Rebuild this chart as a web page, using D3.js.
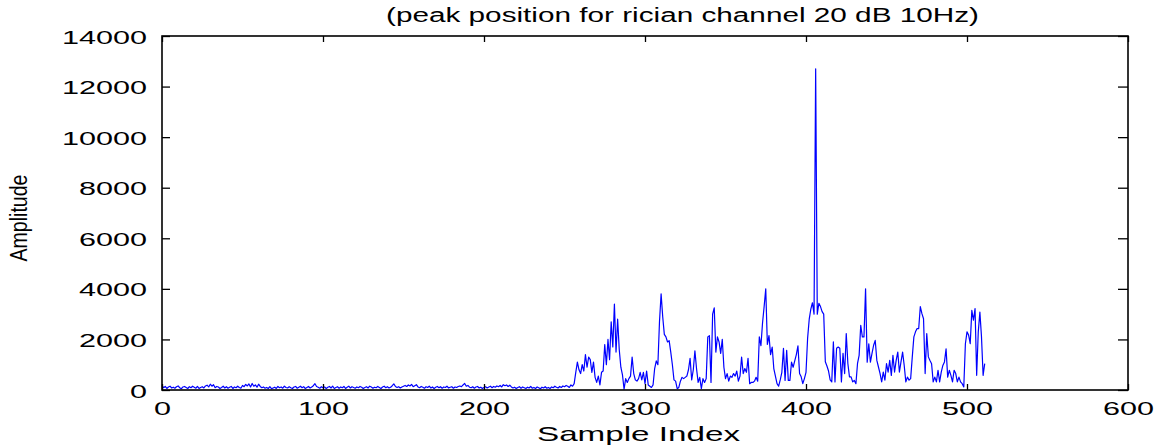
<!DOCTYPE html>
<html>
<head>
<meta charset="utf-8">
<script src="https://cdn.jsdelivr.net/npm/d3@7"></script>
<style>
  html, body { margin: 0; padding: 0; background: #fff; }
  svg { display: block; }
  text { font-family: 'Liberation Sans', Arial, sans-serif; fill: #000; }
</style>
</head>
<body>
<div id="chart"></div>
<script>
// samples 0..251 : quiet part before the burst
const quietPart = [
  180, 90, 140, 60, 120, 150, 80, 110, 70, 130, 160, 90, 50, 120, 140, 100, 60, 130, 90, 150,
  110, 70, 140, 60, 100, 130, 80, 160, 190, 120, 230, 150, 210, 90, 140, 120, 60, 100, 150, 80,
  130, 70, 110, 140, 60, 120, 90, 150, 100, 70, 180, 130, 220, 160, 240, 120, 260, 150, 200, 110,
  230, 140, 90, 120, 70, 100, 60, 130, 50, 80, 110, 60, 140, 90, 120, 70, 150, 100, 80, 130,
  90, 60, 120, 140, 70, 110, 150, 90, 130, 60, 100, 140, 80, 120, 170, 250, 140, 110, 70, 130,
  90, 120, 60, 110, 140, 80, 150, 60, 100, 130, 70, 120, 90, 140, 60, 110, 150, 80, 130, 100,
  70, 120, 90, 140, 110, 60, 100, 130, 80, 150, 120, 70, 110, 90, 140, 100, 60, 120, 150, 90,
  130, 80, 110, 170, 240, 140, 100, 130, 80, 120, 150, 180, 140, 200, 160, 220, 130, 170, 210, 120,
  90, 140, 110, 70, 130, 100, 150, 80, 120, 60, 110, 140, 90, 130, 70, 120, 100, 150, 80, 110,
  130, 70, 120, 100, 140, 160, 130, 200, 260, 150, 180, 110, 90, 130, 70, 120, 140, 80, 110, 60,
  100, 130, 80, 120, 150, 90, 140, 110, 160, 130, 180, 120, 210, 170, 200, 140, 190, 120, 80, 110,
  60, 100, 130, 70, 120, 90, 60, 110, 80, 140, 70, 100, 60, 120, 90, 50, 110, 80, 130, 70,
  100, 60, 120, 90, 150, 110, 80, 140, 100, 160, 130, 180
];

// samples 252..511 : the received burst
const burstPart = [
  150, 100, 200, 150, 250, 700, 1100, 800, 650, 1000,          // 252
  750, 1400, 900, 1300, 1200, 700, 1100, 500, 300, 550,        // 262
  200, 700, 750, 1800, 1000, 2000, 1200, 2700, 1700, 3400,     // 272
  1500, 2800, 1600, 900, 600, 30, 450, 300, 450, 550,          // 282
  1300, 650, 400, 350, 450, 700, 400, 700, 250, 750,           // 292
  200, 150, 100, 200, 850, 1150, 1000, 2700, 3800, 2900,       // 302
  2200, 2100, 1900, 1950, 1500, 1000, 400, 350, 50, 100,       // 312
  350, 500, 450, 500, 550, 800, 1250, 400, 800, 1550,          // 322
  850, 300, 500, 50, 450, 300, 450, 2100, 2150, 300,           // 332
  3000, 3250, 1500, 2100, 1900, 1450, 2000, 900, 450, 650,     // 342
  350, 550, 500, 650, 550, 750, 350, 550, 1300, 650,           // 352
  850, 700, 1250, 250, 300, 300, 350, 500, 350, 2100,          // 362
  1750, 2650, 3300, 4000, 1800, 2150, 1400, 1700, 850, 550,    // 372
  250, 150, 400, 700, 1650, 380, 1570, 380, 380, 1100,         // 382
  900, 1150, 1400, 1750, 650, 520, 250, 450, 700, 2050,        // 392
  2800, 3200, 3450, 3000, 12700, 3000, 3430, 3300, 3100, 3000, // 402
  1120, 950, 750, 400, 320, 1900, 320, 1650, 1700, 1650,       // 412
  320, 1450, 650, 2230, 1050, 520, 520, 320, 380, 250,         // 422
  1050, 1370, 2560, 2100, 2100, 4000, 1100, 1830, 1100, 1450,  // 432
  1770, 1960, 1170, 910, 650, 320, 710, 390, 1040, 710,        // 442
  1170, 580, 1370, 710, 1170, 1500, 710, 1110, 1500, 970,      // 452
  320, 510, 390, 450, 1300, 2100, 2300, 2430, 2430, 3300,      // 462
  3020, 2820, 650, 2230, 1310, 1170, 1040, 320, 510, 320,      // 472
  780, 320, 710, 970, 1110, 1630, 510, 780, 580, 320,          // 482
  780, 650, 320, 510, 320, 250, 120, 1830, 2300, 2170,         // 492
  1830, 3150, 2760, 3220, 580, 2300, 3080, 2100, 580, 1040     // 502
];

const xTicks = [0, 100, 200, 300, 400, 500, 600];
const yTicks = [0, 2000, 4000, 6000, 8000, 10000, 12000, 14000];

const titleText = '(peak position for rician channel 20 dB 10Hz)';
const xLabelText = 'Sample Index';
const yLabelText = 'Amplitude';

const amplitude = quietPart.concat(burstPart);
const series = amplitude.map((v, i) => ({i: i, v: v}));

const W = 1157, H = 448;
const margin = {top: 36, right: 29, bottom: 58, left: 162};

const svg = d3.select('#chart').append('svg')
  .attr('width', W)
  .attr('height', H);

const x = d3.scaleLinear().domain([0, 600]).range([margin.left, W - margin.right]);
const y = d3.scaleLinear().domain([0, 14000]).range([H - margin.bottom, margin.top]);

// data line
svg.append('path')
  .datum(series)
  .attr('fill', 'none')
  .attr('stroke', '#0000ff')
  .attr('stroke-width', 1.2)
  .attr('stroke-linejoin', 'round')
  .attr('d', d3.line().x(d => x(d.i)).y(d => y(d.v)));

// ticks point inward, matlab style
const styleAxis = g => {
  g.select('.domain').remove();
  g.selectAll('.tick line').attr('stroke', '#000').attr('stroke-width', 1.3);
};

svg.append('g')
  .attr('transform', `translate(0,${y(0)})`)
  .call(d3.axisBottom(x).tickValues(xTicks).tickSize(-6).tickFormat(d3.format('d')))
  .call(styleAxis)
  .call(g => g.selectAll('.tick text')
    .attr('y', 25)
    .attr('dy', 0)
    .attr('font-size', 19)
    .attr('font-family', 'Liberation Sans, Arial, sans-serif')
    .attr('textLength', d => String(d).length * 17)
    .attr('lengthAdjust', 'spacingAndGlyphs'));

svg.append('g')
  .attr('transform', `translate(0,${y(14000)})`)
  .call(d3.axisTop(x).tickValues(xTicks).tickSize(-6).tickFormat(''))
  .call(styleAxis);

svg.append('g')
  .attr('transform', `translate(${x(0)},0)`)
  .call(d3.axisLeft(y).tickValues(yTicks).tickSize(-8).tickFormat(d3.format('d')))
  .call(styleAxis)
  .call(g => g.selectAll('.tick text')
    .attr('x', -15)
    .attr('dy', 7)
    .attr('font-size', 19)
    .attr('font-family', 'Liberation Sans, Arial, sans-serif')
    .attr('textLength', d => String(d).length * 17)
    .attr('lengthAdjust', 'spacingAndGlyphs'));

svg.append('g')
  .attr('transform', `translate(${x(600)},0)`)
  .call(d3.axisRight(y).tickValues(yTicks).tickSize(-10).tickFormat(''))
  .call(styleAxis);

// axes box
svg.append('rect')
  .attr('x', x(0))
  .attr('y', y(14000))
  .attr('width', x(600) - x(0))
  .attr('height', y(0) - y(14000))
  .attr('fill', 'none')
  .attr('stroke', '#000')
  .attr('stroke-width', 1.6);

svg.append('text')
  .attr('x', 386)
  .attr('y', 22)
  .attr('font-size', 20)
  .attr('textLength', 593)
  .attr('lengthAdjust', 'spacingAndGlyphs')
  .text(titleText);

svg.append('text')
  .attr('x', 537)
  .attr('y', 441)
  .attr('font-size', 21)
  .attr('textLength', 203)
  .attr('lengthAdjust', 'spacingAndGlyphs')
  .text(xLabelText);

svg.append('text')
  .attr('transform', 'translate(27,218) rotate(-90)')
  .attr('text-anchor', 'middle')
  .attr('font-size', 23)
  .attr('textLength', 87)
  .attr('lengthAdjust', 'spacingAndGlyphs')
  .text(yLabelText);
</script>
</body>
</html>
